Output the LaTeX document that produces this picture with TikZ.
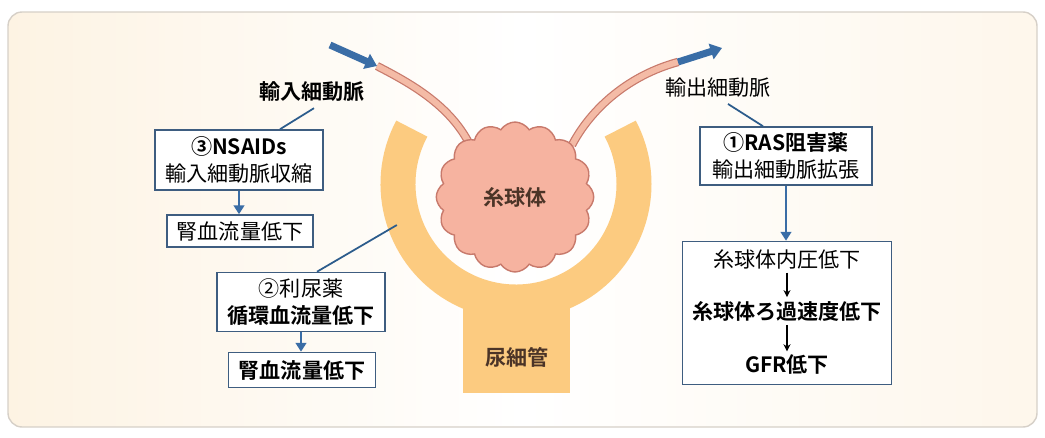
\documentclass[tikz,border=0pt]{standalone}
\usepackage{fontspec}
\setmainfont{Noto Sans CJK JP}[BoldFont={Noto Sans CJK JP Bold}]
\usetikzlibrary{arrows.meta,shapes.symbols,calc}

\definecolor{capsule}{HTML}{FCCB80}
\definecolor{glomfill}{HTML}{F6B3A0}
\definecolor{glomline}{HTML}{C87A6C}
\definecolor{vessel}{HTML}{F4BBA6}
\definecolor{blood}{HTML}{3A6DA6}
\definecolor{boxline}{HTML}{3E5D80}
\definecolor{guide}{HTML}{2C5C8C}
\definecolor{brownink}{HTML}{4B3427}
\definecolor{cream}{HTML}{FDF3E3}
\definecolor{framegray}{HTML}{D6D0C8}

\newcommand{\jfont}{\fontsize{12pt}{15pt}\selectfont}

\begin{document}
\begin{tikzpicture}[x=0.02cm,y=0.02cm,font=\jfont,>={Triangle[length=5pt,width=6pt]}]
    \tikzstyle{medbox}=[draw=boxline,line width=0.9pt,fill=white,align=center,inner xsep=4pt,inner ysep=2pt]
    \tikzstyle{guideline}=[draw=guide,line width=1pt]
    \tikzstyle{flow}=[->,draw=blood,fill=blood,line width=1.2pt]
    \tikzstyle{thinstep}=[-{Stealth[length=4pt,width=4pt]},line width=0.7pt,shorten <=1pt,shorten >=1pt]
    \tikzstyle{tube}=[draw=glomline,line width=0.7pt,double=vessel,double distance=3.4pt]
    \tikzstyle{bloodflow}=[-{Triangle[length=6.5pt,width=9pt]},draw=blood,fill=blood,line width=4pt]
    \useasboundingbox (0,0) rectangle (1045,437);
    % frame
    \path[draw=framegray,line width=0.8pt,rounded corners=8pt,left color=cream,right color=cream!70,middle color=white] (8,10) rectangle (1037,425);

    % Bowman capsule and tubule
    \coordinate (cap) at (516,253);
    \draw[capsule,line width=0.7cm] (cap) ++(152:118) arc[start angle=152,end angle=388,radius=118];
    \fill[capsule] (463,150) rectangle (570,44);
    \node[text=brownink,font=\jfont\bfseries] (tub) at (517,80) {尿細管};

    % arterioles
    \coordinate (ainA) at (330,392);
    \coordinate (ainB) at (377,371);
    \coordinate (ainC) at (470,292);
    \coordinate (aoutA) at (572,292);
    \coordinate (aoutB) at (678,375);
    \coordinate (aoutC) at (722,389);
    \draw[tube] (ainB) .. controls (410,354) and (450,332) .. (ainC);
    \draw[tube] (aoutA) .. controls (592,330) and (630,362) .. (aoutB);
    \draw[bloodflow] (ainA) -- (ainB);
    \draw[bloodflow] (aoutB) -- (aoutC);

    % glomerulus
    \node[cloud,cloud puffs=16,cloud puff arc=115,draw=glomline,fill=glomfill,line width=0.8pt,
          minimum width=3.15cm,minimum height=3.0cm,text=brownink,font=\jfont\bfseries] (glom) at (515,240) {糸球体};

    \node[font=\jfont\bfseries] (aff) at (312,345) {輸入細動脈};
    \node (eff) at (718,349) {輸出細動脈};

    % left side
    \node[medbox,minimum width=3.36cm,minimum height=1.2cm] (nsaid) at (239,277) {\textbf{③NSAIDs}\\輸入細動脈収縮};
    \node[medbox,minimum width=2.92cm,minimum height=0.64cm] (rbf1) at (240,206) {腎血流量低下};
    \node[medbox,minimum width=3.36cm,minimum height=1.18cm] (diur) at (301,135) {②利尿薬\\\textbf{循環血流量低下}};
    \node[medbox,minimum width=2.94cm,minimum height=0.7cm] (rbf2) at (302,67) {\textbf{腎血流量低下}};

    % right side
    \node[medbox,minimum width=3.44cm,minimum height=1.16cm] (ras) at (786,281) {\textbf{①RAS阻害薬}\\輸出細動脈拡張};
    \node[medbox,minimum width=4.18cm,minimum height=2.86cm] (gfrbox) at (787,124) {};
    \node[inner ysep=1pt] (press) at (787,178) {糸球体内圧低下};
    \node[inner ysep=1pt] (rate) at (787,126) {\textbf{糸球体ろ過速度低下}};
    \node[inner ysep=1pt] (gfr) at (787,72) {\textbf{GFR低下}};

    \coordinate (capl) at ($(cap)+(199:126)$);
    \draw[guideline] ($(aff.south)+(2,0)$) -- ($(nsaid.north)+(41,0)$);
    \draw[guideline] (capl) -- ($(diur.north)+(16,0)$);
    \draw[guideline] ($(eff.south)+(10,0)$) -- ($(ras.north)+(-23,0)$);

    \draw[flow] (nsaid.south) -- (nsaid.south |- rbf1.north);
    \draw[flow] (diur.south) -- (diur.south |- rbf2.north);
    \draw[flow] (ras.south) -- (ras.south |- gfrbox.north);
    \draw[thinstep] (press) -- (rate);
    \draw[thinstep] (rate) -- (gfr);
\end{tikzpicture}
\end{document}
